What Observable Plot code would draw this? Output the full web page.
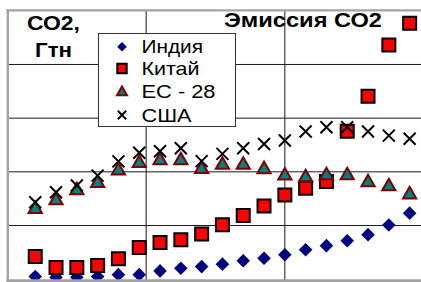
<!DOCTYPE html>
<html>
<head>
<meta charset="utf-8">
<script src="https://cdn.jsdelivr.net/npm/d3@7"></script>
<script src="https://cdn.jsdelivr.net/npm/@observablehq/plot@0.6"></script>
<style>
  html, body { margin: 0; padding: 0; background: #fff; }
  svg { display: block; font-family: "Liberation Sans", Arial, sans-serif; }
</style>
</head>
<body>
<div id="chart"></div>
<script>
// Years (one point every 3 years)
const years = [1960, 1963, 1966, 1969, 1972, 1975, 1978, 1981, 1984, 1987, 1990, 1993, 1996, 1999, 2002, 2005, 2008, 2011, 2014];
// CO2 emissions, Gt
const india = [0.10, 0.07, 0.07, 0.10, 0.17, 0.17, 0.31, 0.41, 0.47, 0.56, 0.69, 0.78, 0.91, 1.10, 1.25, 1.43, 1.66, 2.02, 2.46];
const china = [0.85, 0.44, 0.44, 0.51, 0.76, 1.18, 1.37, 1.47, 1.68, 2.03, 2.37, 2.73, 3.14, 3.39, 3.64, 5.51, 6.82, 8.73, 9.54];
const eu28  = [2.68, 3.00, 3.37, 3.64, 4.11, 4.39, 4.49, 4.49, 4.17, 4.32, 4.32, 4.16, 3.92, 3.86, 3.93, 3.93, 3.67, 3.52, 3.22];
const usa   = [2.87, 3.24, 3.49, 3.86, 4.39, 4.71, 4.77, 4.88, 4.40, 4.67, 4.88, 5.04, 5.17, 5.50, 5.66, 5.66, 5.50, 5.35, 5.23];
const seriesNames = ["Индия", "Китай", "ЕС - 28", "США"];
const xGrid = [1976, 1996];
const yGrid = [2, 4, 6, 8];
const titleText = "Эмиссия СО2";
const unitLines = ["СО2,", "Гтн"];

// custom symbols: r (Plot radius) = half-width of the shape
const R = s => Math.sqrt(s / Math.PI);
const diamond = {draw(c, s) { const r = R(s); c.moveTo(0, -r); c.lineTo(r, 0); c.lineTo(0, r); c.lineTo(-r, 0); c.closePath(); }};
const square = {draw(c, s) { const r = R(s); c.rect(-r, -r, 2 * r, 2 * r); }};
const triangle = {draw(c, s) { const r = R(s); c.moveTo(0, -0.9 * r); c.lineTo(r, 0.85 * r); c.lineTo(-r, 0.85 * r); c.closePath(); }};
const times = {draw(c, s) { const r = R(s); c.moveTo(-r, -r); c.lineTo(r, r); c.moveTo(r, -r); c.lineTo(-r, r); }};

const rows = (vals) => years.map((yr, i) => ({year: yr, value: vals[i]}));

const styles = [
  {symbol: diamond, fill: "#000080", stroke: "none", strokeWidth: 0, r: 6.8, lr: 4.8},
  {symbol: square, fill: "#ff0000", stroke: "#000", strokeWidth: 2, r: 6.5, lr: 4.7},
  {symbol: triangle, fill: "#008080", stroke: "#800000", strokeWidth: 2, r: 6.6, lr: 5.0},
  {symbol: times, fill: "none", stroke: "#000", strokeWidth: 2, r: 6.0, lr: 4.2}
];
const data = [india, china, eu28, usa];

const chart = Plot.plot({
  width: 421,
  height: 282,
  marginLeft: 7,
  marginRight: 0,
  marginTop: 10,
  marginBottom: 2,
  style: {background: "#fff"},
  x: {domain: [1956, 2016], range: [7, 423], axis: null},
  y: {domain: [0, 10], range: [278.7, 10.3], axis: null},
  marks: [
    Plot.ruleY(yGrid, {stroke: "#1a1a1a", strokeWidth: 1}),
    Plot.ruleX(xGrid, {stroke: "#1a1a1a", strokeWidth: 1}),
    ...data.map((vals, k) => Plot.dot(rows(vals), {
      x: "year", y: "value",
      symbol: styles[k].symbol, r: styles[k].r,
      fill: styles[k].fill, stroke: styles[k].stroke, strokeWidth: styles[k].strokeWidth
    }))
  ]
});

document.getElementById("chart").appendChild(chart);
const svg = d3.select(chart);

// plot border (left, top, bottom) in gray
const border = svg.append("g").attr("stroke", "#a3a3a3").attr("fill", "none");
border.append("line").attr("x1", 7.8).attr("x2", 7.8).attr("y1", 9).attr("y2", 282).attr("stroke-width", 2.4);
border.append("line").attr("x1", 6.6).attr("x2", 421).attr("y1", 10.3).attr("y2", 10.3).attr("stroke-width", 2.2);
border.append("line").attr("x1", 6.6).attr("x2", 421).attr("y1", 280.7).attr("y2", 280.7).attr("stroke-width", 3);

// legend
const lg = svg.append("g").attr("text-anchor", "start");
lg.append("rect").attr("x", 98.5).attr("y", 33.5).attr("width", 137).attr("height", 93)
  .attr("fill", "#fff").attr("stroke", "#333").attr("stroke-width", 1);
const legendY = [46.7, 68.5, 91, 115];
const legendBase = [53.3, 75.2, 98, 122];
const legendWidths = [61.5, 58, 74, 50];
seriesNames.forEach((name, k) => {
  const st = styles[k];
  lg.append("path")
    .attr("d", d3.symbol().type(st.symbol).size(Math.PI * st.lr * st.lr)())
    .attr("transform", `translate(122,${legendY[k]})`)
    .attr("fill", st.fill).attr("stroke", st.stroke).attr("stroke-width", st.strokeWidth);
  lg.append("text").attr("x", 141.5).attr("y", legendBase[k])
    .attr("text-anchor", "start")
    .attr("font-size", 18.5).attr("fill", "#000")
    .attr("textLength", legendWidths[k]).attr("lengthAdjust", "spacingAndGlyphs")
    .text(name);
});

// titles
const tg = svg.append("g").attr("text-anchor", "start").attr("font-weight", "bold").attr("font-size", 20.5).attr("fill", "#000");
tg.append("text").attr("x", 224).attr("y", 26.7).attr("text-anchor", "start")
  .attr("textLength", 158).attr("lengthAdjust", "spacingAndGlyphs").text(titleText);
tg.append("text").attr("x", 27).attr("y", 30).attr("text-anchor", "start")
  .attr("textLength", 53).attr("lengthAdjust", "spacingAndGlyphs").text(unitLines[0]);
tg.append("text").attr("x", 35).attr("y", 56.8).attr("text-anchor", "start")
  .attr("textLength", 37).attr("lengthAdjust", "spacingAndGlyphs").text(unitLines[1]);
</script>
</body>
</html>
